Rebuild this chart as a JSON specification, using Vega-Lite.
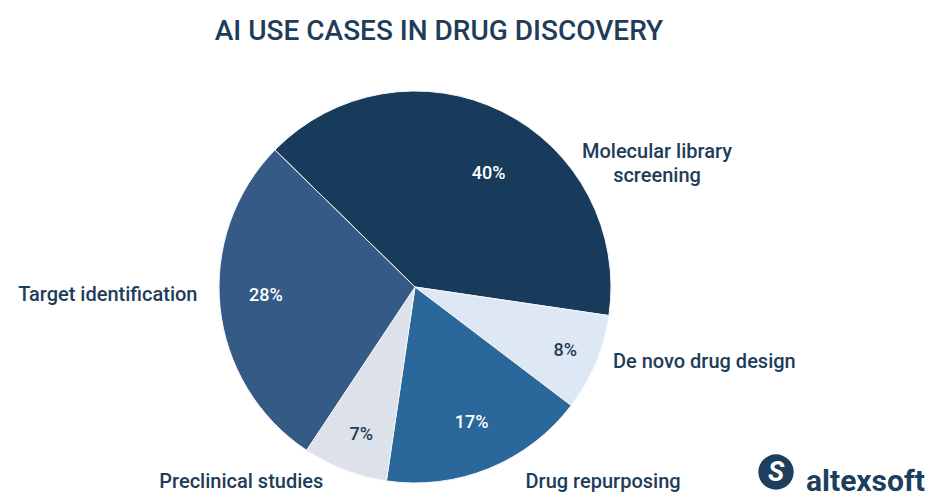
{
  "$schema": "https://vega.github.io/schema/vega-lite/v6.json",
  "width": 830,
  "height": 420,
  "autosize": {"type": "none"},
  "padding": {"left": 0, "top": 77, "right": 100, "bottom": 0},
  "background": "white",
  "config": {"view": {"stroke": null}},
  "title": {
    "text": "AI USE CASES IN DRUG DISCOVERY",
    "font": "Roboto",
    "fontSize": 28,
    "fontWeight": 500,
    "color": "#1e3d59",
    "anchor": "middle",
    "baseline": "alphabetic",
    "dx": 24,
    "offset": 9
  },
  "data": {
    "values": [
      {"order": 1, "label": "Molecular library\nscreening", "value": 40, "pct": "40%"},
      {"order": 2, "label": "De novo drug design", "value": 8, "pct": "8%"},
      {"order": 3, "label": "Drug repurposing", "value": 17, "pct": "17%"},
      {"order": 4, "label": "Preclinical studies", "value": 7, "pct": "7%"},
      {"order": 5, "label": "Target identification", "value": 28, "pct": "28%"}
    ]
  },
  "encoding": {
    "theta": {"field": "value", "type": "quantitative", "stack": true, "scale": {"range": [-0.796, 5.487]}},
    "order": {"field": "order", "type": "quantitative"}
  },
  "layer": [
    {
      "mark": {"type": "arc", "radius": 196, "stroke": "#f4f6f9", "strokeWidth": 1},
      "encoding": {
        "color": {
          "field": "label",
          "type": "nominal",
          "scale": {
            "domain": ["Molecular library\nscreening", "De novo drug design", "Drug repurposing", "Preclinical studies", "Target identification"],
            "range": ["#183b5b", "#dde8f4", "#2a679a", "#dde2ea", "#345a85"]
          },
          "legend": null
        }
      }
    },
    {
      "mark": {
        "type": "text", "radius": 150, "font": "Roboto", "fontSize": 18, "fontWeight": 500,
        "dx": {"expr": "datum.order == 1 ? 7 : datum.order == 2 ? 12 : 0"},
        "dy": {"expr": "datum.order == 1 ? 21 : datum.order == 2 ? 6 : datum.order == 3 ? -3 : datum.order == 4 ? 8 : -7"}
      },
      "encoding": {
        "text": {"field": "pct"},
        "color": {"condition": {"test": "datum.value < 10", "value": "#1e3d59"}, "value": "white"}
      }
    },
    {
      "mark": {
        "type": "text", "radius": 270, "baseline": "middle", "lineBreak": "\n", "lineHeight": 24,
        "font": "Roboto", "fontSize": 20, "fontWeight": 500, "color": "#1e3d59",
        "align": {"expr": "datum.order == 2 ? 'left' : datum.order == 5 ? 'right' : 'center'"},
        "dx": {"expr": "datum.order == 1 ? 122 : datum.order == 2 ? -51 : datum.order == 3 ? 86 : datum.order == 4 ? -77 : 51"},
        "dy": {"expr": "datum.order == 1 ? 107 : datum.order == 2 ? -30 : datum.order == 3 ? -55 : datum.order == 4 ? -57 : -20"}
      },
      "encoding": {"text": {"field": "label"}}
    },
    {
      "data": {"values": [{"brand": "altexsoft"}]},
      "mark": {"type": "point", "shape": "circle", "filled": true, "size": 1250, "color": "#1d3f5e", "opacity": 1},
      "encoding": {"x": {"value": 776}, "y": {"value": 395}, "theta": null, "order": null}
    },
    {
      "data": {"values": [{"brand": "altexsoft"}]},
      "mark": {"type": "text", "text": "S", "font": "Roboto", "fontSize": 27, "fontWeight": 700, "fontStyle": "italic", "color": "white", "align": "center", "baseline": "middle"},
      "encoding": {"x": {"value": 776}, "y": {"value": 396}, "theta": null, "order": null}
    },
    {
      "data": {"values": [{"brand": "altexsoft"}]},
      "mark": {"type": "text", "font": "Roboto", "fontSize": 30, "fontWeight": 700, "color": "#1d3f5e", "align": "left", "baseline": "alphabetic"},
      "encoding": {"text": {"field": "brand"}, "x": {"value": 806}, "y": {"value": 414}, "theta": null, "order": null}
    }
  ]
}
